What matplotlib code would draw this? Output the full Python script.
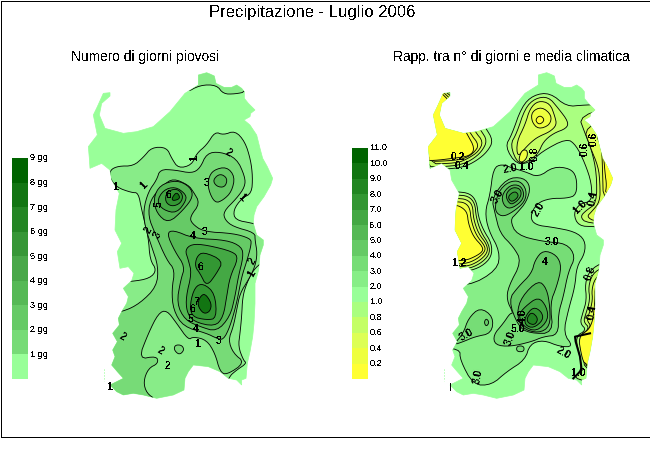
import matplotlib
matplotlib.use("Agg")
import matplotlib.pyplot as plt
import numpy as np
from matplotlib.patches import Polygon, Rectangle
from matplotlib.path import Path

plt.rcParams['font.family'] = ['Liberation Sans', 'DejaVu Sans']
plt.rcParams['text.antialiased'] = False

TITLE = "Precipitazione - Luglio 2006"
SUB_L = "Numero di giorni piovosi"
SUB_R = "Rapp. tra n° di giorni e media climatica"

island = [(415,15),(440,8),(450,12),(463,18),(468,40),(492,52),(515,52),(530,45),(545,55),(553,65),(553,85),(565,100),(585,120),
 (572,130),(570,140),(552,150),(570,165),(590,195),(600,235),(608,265),(622,290),(638,325),(632,345),(612,380),(590,410),(582,435),
 (580,460),(590,495),(610,510),(610,525),(600,555),(596,600),(585,640),(585,700),(582,760),(578,800),(570,845),(562,880),(558,925),
 (545,930),(545,945),(530,930),(505,925),(480,905),(445,890),(400,885),(385,905),(375,925),(372,960),(340,975),(290,985),(250,975),
 (220,970),(190,975),(170,965),(150,945),(190,925),(172,905),(155,885),(165,860),(158,840),(172,815),(158,790),(178,765),(175,745),
 (185,725),(200,700),(205,680),(190,655),(215,632),(222,610),(205,590),(180,595),(172,545),(185,520),(165,480),(168,420),(178,370),
 (155,330),(150,300),(125,280),(90,295),(88,265),(85,230),(112,195),(100,135),(112,110),(130,70),(150,68),(150,78),(125,100),(118,135),
 (135,175),(190,190),(230,185),(280,170),(330,125),(375,70),(415,45)]

# left map: (level index, outline)
left_regions = [
 (1,[(375,70),(420,45),(470,45),(490,72),(525,72),(560,65),(560,0),(400,0)]),
 (1,[(150,325),(150,300),(175,288),(220,288),(250,262),(275,232),(320,232),(335,265),(355,295),(395,285),(410,250),(440,225),(465,185),(490,195),(525,182),(555,215),(572,270),(578,320),(575,370),(545,385),(520,420),(525,450),(580,460),(650,480),(650,575),(608,575),(580,600),(560,640),(548,680),(545,740),(540,790),(535,830),(550,870),(560,880),(530,900),(505,922),(480,1000),(100,1000),(100,640),(215,635),(270,625),(290,600),(270,570),(265,500),(245,420),(235,368),(215,368),(170,352)]),
 (2,[(300,298),(345,300),(395,310),(420,295),(440,250),(480,245),(530,265),(555,320),(555,350),(530,385),(490,425),(495,450),(520,470),(585,488),(585,510),(592,550),(585,590),(565,630),(540,670),(530,720),(520,770),(505,810),(520,850),(555,878),(500,915),(480,905),(465,850),(440,810),(400,800),(385,810),(350,760),(320,720),(295,730),(265,790),(235,868),(290,858),(295,880),(265,895),(250,935),(260,970),(290,990),(100,990),(100,740),(190,725),(240,700),(290,650),(295,590),(275,530),(255,470),(250,420),(265,365),(290,330)]),
 (2,[(345,825),(365,825),(373,840),(358,855),(342,840)]),
 (3,[(310,345),(270,390),(265,440),(285,490),(320,570),(345,600),(335,660),(340,720),(370,770),(440,790),(470,805),(490,810),(510,770),(530,700),(545,620),(560,575),(575,520),(570,505),(520,490),(430,485),(395,460),(390,440),(420,400),(400,365),(385,345),(340,325)]),
 (3,[(460,300),(500,290),(525,320),(515,365),(490,390),(465,400),(445,360),(445,325)]),
 (4,[(480,310),(503,325),(495,352),(470,350),(458,330)]),
 (4,[(300,345),(350,330),(390,350),(400,380),(370,420),(325,460),(290,430),(280,385)]),
 (5,[(310,360),(345,350),(375,370),(380,390),(350,430),(310,420),(290,395)]),
 (6,[(320,365),(350,355),(370,375),(362,400),(335,410),(315,395)]),
 (7,[(335,385),(350,365),(362,385),(340,393)]),
 (4,[(320,490),(340,480),(400,505),(500,510),(545,530),(550,560),(535,620),(525,680),(510,740),(470,785),(420,770),(375,750),(350,700),(362,630),(375,590),(345,545)]),
 (5,[(375,540),(395,522),(440,525),(520,545),(535,565),(510,620),(500,680),(490,740),(465,770),(400,755),(380,725),(378,680),(395,610),(385,570)]),
 (6,[(410,560),(430,545),(490,572),(470,610),(440,650),(420,610),(405,590)]),
 (6,[(405,650),(430,640),(465,670),(470,745),(440,750),(395,740),(390,700)]),
 (7,[(420,680),(435,670),(455,700),(450,725),(430,732),(412,705)]),
]
left_labels = [(170,352,'1',0),(403,262,'1',90),(505,250,'2',-30),(548,385,'1',-45),(440,340,'3',0),(325,375,'6',0),
 (295,403,'5',90),(265,480,'2',60),(292,495,'3',60),(398,497,'4',0),(433,485,'3',0),(420,590,'6',0),(578,572,'2',60),
 (578,608,'1',60),(412,697,'7',0),(397,717,'6',0),(392,748,'5',0),(408,778,'4',0),(475,812,'3',0),(187,800,'2',-30),
 (302,842,'2',-30),(323,888,'2',0),(152,950,'1',0),(415,822,'1',0),(252,345,'1',45)]

# right map: (colour index, outline); index into right map colours
r = [
 (5,[(285,230),(305,195),(335,110),(370,75),(420,68),(470,110),(520,105),(660,100),(660,475),(555,470),(505,468),(490,430),(510,400),(545,395),(545,340),(525,280),(498,225),(470,205),(395,245),(365,275),(320,285)]),
 (4,[(300,225),(320,190),(345,115),(375,85),(415,80),(445,115),(475,155),(470,175),(430,190),(400,215),(385,250),(360,270),(325,285)]),
 (3,[(320,215),(345,165),(360,115),(385,92),(420,100),(435,140),(440,165),(420,185),(385,200),(365,215),(345,235),(322,262)]),
 (2,[(365,125),(395,110),(425,135),(420,165),(385,178),(365,155)]),
 (2,[(325,272),(335,240),(352,240),(352,262),(337,278)]),
 (1,[(375,150),(390,135),(405,150),(388,165)]),
 (4,[(505,135),(525,190),(545,240),(560,310),(560,400),(530,420),(510,440),(530,460),(660,465),(660,100)]),
 (3,[(520,170),(540,230),(565,290),(570,340),(570,395),(545,425),(530,440),(555,455),(660,455),(660,120)]),
 (2,[(555,190),(575,230),(578,310),(580,395),(660,395),(660,120)]),
 (1,[(578,220),(585,310),(590,345),(585,375),(660,375),(660,220)]),
 # north-west coast
 (5,[(225,170),(250,212),(232,245),(200,272),(160,292),(100,298),(40,298),(40,60),(150,60)]),
 (4,[(212,180),(232,212),(215,245),(185,270),(150,285),(100,290),(40,290),(40,60),(130,60)]),
 (3,[(195,185),(220,215),(205,245),(175,265),(140,280),(40,282),(40,60),(120,60)]),
 (2,[(180,190),(208,225),(190,250),(165,265),(130,272),(40,275),(40,60),(110,60)]),
 (1,[(170,190),(195,235),(180,258),(130,265),(70,272),(40,270),(40,60),(100,60)]),
 # west coast
 (5,[(140,365),(180,370),(200,395),(205,440),(220,480),(245,520),(245,560),(215,590),(170,605),(100,605),(100,365)]),
 (4,[(140,375),(175,378),(195,400),(198,440),(212,485),(238,525),(238,555),(210,582),(170,598),(100,598),(100,375)]),
 (3,[(140,385),(170,388),(188,405),(190,445),(205,490),(232,525),(232,550),(205,575),(170,590),(100,590),(100,385)]),
 (2,[(140,395),(165,398),(180,415),(183,450),(198,495),(225,528),(225,545),(200,568),(165,582),(100,582),(100,395)]),
 (1,[(140,405),(160,415),(172,430),(175,460),(190,500),(218,530),(218,545),(195,560),(165,572),(100,572),(100,405)]),
 # south-east coast
 (5,[(582,575),(540,600),(525,640),(530,690),(518,730),(510,760),(530,780),(495,800),(510,860),(515,900),(485,930),(660,950),(660,575)]),
 (4,[(582,590),(548,610),(535,650),(540,690),(528,730),(520,755),(540,775),(505,800),(520,860),(525,900),(660,950),(660,590)]),
 (3,[(582,605),(555,625),(545,660),(548,690),(538,730),(530,750),(545,770),(510,800),(525,860),(530,900),(660,950),(660,605)]),
 (1,[(570,610),(555,650),(555,690),(550,740),(545,760),(535,780),(505,800),(515,860),(525,885),(660,950),(660,610)]),
 # 2.0 and upwards
 (6,[(250,295),(275,282),(310,295),(345,305),(385,322),(430,290),(480,295),(500,320),(500,375),(470,385),(420,385),(380,400),(360,440),(375,465),(430,472),(495,485),(525,510),(525,550),(500,590),(495,650),(475,720),(460,790),(490,830),(450,830),(400,810),(360,822),(345,870),(290,905),(245,945),(190,945),(150,870),(150,835),(60,835),(60,640),(175,650),(262,600),(270,545),(235,480),(225,425),(240,375)]),
 (7,[(245,385),(290,325),(340,322),(362,350),(350,395),(320,430),(300,450),(320,495),(400,515),(470,520),(497,560),(475,605),(460,680),(445,730),(445,795),(400,800),(365,815),(300,830),(255,825),(250,795),(280,760),(300,730),(310,730),(290,690),(295,650),(335,575),(310,530),(270,490),(255,430)]),
 (7,[(130,825),(160,815),(195,800),(245,790),(250,740),(210,712),(175,745),(160,790)]),
 (8,[(222,757),(229,745),(238,757),(229,770)]),
 (7,[(320,828),(342,828),(342,845),(320,845)]),
 (8,[(255,410),(265,365),(295,335),(330,332),(350,360),(345,395),(310,425),(280,440),(260,430)]),
 (9,[(275,375),(300,345),(330,345),(343,370),(335,395),(300,418),(280,405)]),
 (10,[(285,375),(305,352),(330,355),(335,375),(320,395),(300,405)]),
 (11,[(292,380),(315,362),(328,378),(305,398)]),
 (8,[(375,570),(400,540),(440,555),(455,590),(440,650),(420,700),(430,790),(360,790),(325,770),(295,690),(325,650),(365,610)]),
 (9,[(335,680),(385,630),(410,655),(420,710),(420,770),(385,790),(335,775),(320,730)]),
 (10,[(345,710),(385,680),(410,710),(415,750),(380,785),(340,770),(325,735)]),
 (11,[(345,740),(370,710),(395,725),(400,750),(370,775),(345,765)]),
 (12,[(350,745),(365,725),(385,745),(375,765),(355,760)]),
]
right_labels = [(300,295,'2.0',10),(350,292,'1.0',0),(375,250,'0.8',90),(525,235,'0.6',90),(550,205,'0.6',90),
 (143,262,'0.2',0),(155,288,'0.4',0),(262,378,'3.0',60),(385,418,'2.0',60),(510,410,'1.0',45),(548,385,'0.4',80),
 (425,515,'3.0',0),(403,575,'4',0),(150,578,'1.2',0),(540,610,'0.8',70),(545,728,'0.4',80),(338,738,'4.0',90),
 (325,778,'5.0',0),(300,805,'3.0',70),(170,795,'3.0',30),(205,920,'3.0',80),(460,848,'2.0',-30),(505,910,'1.0',0)]
# heavy contour bundle on the south-east coast of the right map
se_bundle = [(540,790),(495,800),(497,815),(510,860),(515,900),(490,925)]
# offshore islets
left_islet = [(133,898),(133,932)]
right_islet = [(103,898),(103,932)]
right_islet_line = [(120,940),(120,960)]

left_vals = ['9 gg','8 gg','7 gg','6 gg','5 gg','4 gg','3 gg','2 gg','1 gg']
left_cols = ['#006400','#127512','#248624','#369736','#48A848','#55B955','#66CA66','#77DB77','#99FF99']
map_l_cols = ['#99FF99','#88EC88','#77DB77','#66CA66','#55B955','#44A844','#339733','#127512']
right_vals = ['11.0','10.0','9.0','8.0','7.0','6.0','5.0','4.0','3.0','2.0','1.0','0.8','0.6','0.4','0.2']
right_cols = ['#006400','#117511','#228622','#339733','#44A844','#55B955','#66CA66','#76DD76','#87EE87','#99FF99','#AAFF80','#C4FF66','#DDFF55','#EEFF3F','#FFFF33']
map_r_cols = ['#99FF99','#FFFF33','#EEFF3F','#DDFF55','#C4FF66','#AAFF80','#87EE87','#76DD76','#66CA66','#55B955','#44A844','#339733','#228622']

def smooth(pts, n=2):
    p = np.array(pts, float)
    for _ in range(n):
        q = np.roll(p, -1, axis=0)
        p = np.column_stack([0.75*p+0.25*q, 0.25*p+0.75*q]).reshape(-1, 2)
    return p

def pix_axes(fig, x0, y0, x1, y1, xl, yl):
    ax = fig.add_axes([x0/650, 1-y1/450, (x1-x0)/650, (y1-y0)/450])
    ax.set_xlim(*xl); ax.set_ylim(*yl); ax.axis('off')
    return ax

fig = plt.figure(figsize=(6.5, 4.5), dpi=100, facecolor='white')
page = pix_axes(fig, 0, 0, 650, 450, (0,650), (450,0))
page.add_patch(Rectangle((0.5,0.5), 649, 436, fill=False, ec='black', lw=0.72, aa=False))
page.text(312, 12.5, TITLE, ha='center', va='center', fontsize=12)
page.text(145.5, 57, SUB_L, ha='center', va='center', fontsize=9.9)
page.text(511, 57, SUB_R, ha='center', va='center', fontsize=9.9)

def draw_map(box, xlim, base, regions, cols, labels, shift):
    xy = np.array(island, float); xy[:,0] -= shift
    under = pix_axes(fig, *box, xlim, (990,0))
    under.fill(xy[:,0], xy[:,1], fc=base, ec=base, lw=0.5)
    under.set_xlim(*xlim); under.set_ylim(990, 0)
    ax = pix_axes(fig, *box, xlim, (990,0))
    coast = Path(np.vstack([xy, xy[:1]]), closed=True)
    for idx, pts in regions:
        pts = smooth(pts)
        f = Polygon(pts, closed=True, fc=cols[idx], ec='none')
        ax.add_patch(f); f.set_clip_path(coast, ax.transData)
        e = Polygon(pts, closed=True, fill=False, ec='black', lw=0.62)
        ax.add_patch(e); e.set_clip_path(coast, ax.transData)
    for x, y, s, rot in labels:
        ax.text(x, y, s, ha='center', va='center', rotation=rot, fontsize=7.5, fontweight='bold', color='black')
    ax.set_xlim(*xlim); ax.set_ylim(990, 0)
    return ax

axL = draw_map((60,70,290,400), (0,690), map_l_cols[0], left_regions, map_l_cols, left_labels, 0)
axL.plot(*zip(*left_islet), ls=':', color=map_l_cols[0], lw=0.8)
axR = draw_map((410,70,630,400), (0,660), map_r_cols[0], r, map_r_cols, right_labels, 30)
axR.plot(*zip(*se_bundle), color='black', lw=1.5)
axR.plot(*zip(*right_islet), ls=':', color=map_r_cols[0], lw=0.8)
axR.plot(*zip(*right_islet_line), color='black', lw=0.7)

ytop, ybot = 158, 379
h = (ybot-ytop)/len(left_vals)
for i, s in enumerate(left_vals):
    page.add_patch(Rectangle((12, ytop+i*h), 16, h, fc=left_cols[i], ec='none', aa=False))
    page.text(30, ytop+i*h, s, ha='left', va='center', fontsize=6.5)
ytop, ybot = 148, 379
h = (ybot-ytop)/len(right_vals)
for i, s in enumerate(right_vals):
    page.add_patch(Rectangle((352, ytop+i*h), 16, h, fc=right_cols[i], ec='none', aa=False))
    page.text(370, ytop+i*h, s, ha='left', va='center', fontsize=6.5)
fig.savefig('out.png', dpi=100)

# make sure the full coast silhouette is present under the finished picture
sil = plt.figure(figsize=(6.5, 4.5), dpi=100, facecolor='white')
for box, xlim, shift in [((60,70,290,400),(0,690),0), ((410,70,630,400),(0,660),30)]:
    a = pix_axes(sil, *box, xlim, (990,0))
    pts = np.array(island, float); pts[:,0] -= shift
    a.fill(pts[:,0], pts[:,1], fc='#99FF99', ec='#99FF99', lw=0.5)
    a.set_xlim(*xlim); a.set_ylim(990, 0)
sil.canvas.draw()
mask = np.asarray(sil.canvas.buffer_rgba()).astype(float)[:,:,:3]/255
out = plt.imread('out.png')[:,:,:3].copy()
blank = out.min(axis=2) > 0.98
out[blank] = mask[blank]
plt.imsave('out.png', out)
